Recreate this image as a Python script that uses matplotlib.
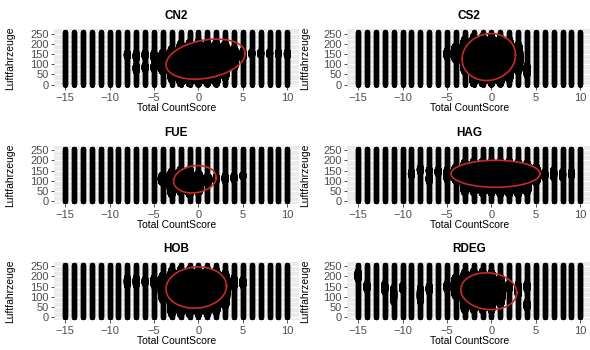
import numpy as np
import matplotlib
matplotlib.use("Agg")
import matplotlib.pyplot as plt

plt.rcParams['font.family'] = ['Liberation Sans', 'DejaVu Sans']

# x: Total CountScore, y: Luftfahrzeuge
scores = np.arange(-15, 11)
aircraft = np.arange(0, 259)

stations = ["CN2", "CS2", "FUE", "HAG", "HOB", "RDEG"]

# dichte Kerne je Station: (score, y von, y bis)
core = {
    "CN2": [(-4, 60, 160), (-3, 20, 180), (-2, 0, 205), (-1, 0, 210), (0, 0, 215),
            (1, 0, 210), (2, 0, 210), (3, 30, 205), (4, 80, 180)],
    "CS2": [(-4, 120, 190), (-3, 60, 225), (-2, 0, 240), (-1, 0, 240), (0, 0, 240),
            (1, 0, 235), (2, 20, 225), (3, 60, 200)],
    "FUE": [(-4, 90, 130), (-3, 30, 150), (-2, 40, 160), (-1, 30, 160), (0, 40, 140),
            (1, 90, 120)],
    "HAG": [(-4, 100, 170), (-3, 40, 195), (-2, 40, 200), (-1, 35, 200), (0, 35, 200),
            (1, 30, 200), (2, 30, 200), (3, 30, 195), (4, 40, 190), (5, 90, 170)],
    "HOB": [(-4, 80, 210), (-3, 10, 235), (-2, 10, 240), (-1, 10, 240), (0, 10, 240),
            (1, 10, 240), (2, 20, 235), (3, 50, 220)],
    "RDEG": [(-4, 100, 200), (-3, 30, 225), (-2, 30, 230), (-1, 30, 230), (0, 30, 225),
             (1, 60, 200)],
}

# einzelne Verdickungen: (score, y von, y bis)
bulges = {
    "CN2": [(-8, 130, 160), (-7, 120, 160), (-7, 60, 100), (-6, 130, 160), (-6, 70, 100),
            (-5, 120, 160), (-5, 70, 100), (5, 120, 170), (6, 140, 165), (7, 140, 165),
            (8, 140, 165), (9, 140, 165), (10, 135, 165)],
    "CS2": [(-5, 130, 170), (4, 40, 100)],
    "FUE": [(-3, 30, 55), (2, 95, 125), (3, 95, 130), (4, 100, 130), (5, 115, 135)],
    "HAG": [(-9, 120, 150), (-8, 140, 170), (-7, 90, 130), (-7, 140, 160), (-6, 130, 160),
            (-5, 100, 160), (6, 110, 150), (7, 110, 160), (8, 110, 150), (9, 120, 150)],
    "HOB": [(-8, 150, 200), (-7, 150, 200), (-6, 160, 190), (-5, 150, 200), (4, 140, 200),
            (5, 150, 190)],
    "RDEG": [(-15, 180, 230), (-14, 130, 170), (-12, 120, 170), (-11, 70, 150),
             (-10, 130, 160), (-8, 70, 150), (-7, 120, 160), (-5, 130, 170),
             (2, 130, 170), (3, 100, 170), (4, 40, 80), (4, 130, 170)],
}

# Ellipsen: Mitte x, Mitte y, halbe Breite, halbe Hoehe, Phase (Grad)
ellipse_cx = [0.8, -0.3, -0.4, 0.45, -0.25, -0.3]
ellipse_cy = [125, 135, 108, 135, 146, 128]
ellipse_rx = [4.45, 3.0, 2.4, 5.0, 3.4, 3.15]
ellipse_ry = [98, 115, 67, 66, 101, 90]
ellipse_phase = [74, 85, 82, 90, 86, 95]

W, H = 590, 350
fig = plt.figure(figsize=(W / 100, H / 100), dpi=100)

col_left = [54, 347]
row_top = [29.3, 146, 262]
ax_w, ax_h = 244.5, 58

xlim = (scores.min() - 1.25, scores.max() + 1.25)
yspan = aircraft.max() - aircraft.min()
ylim = (aircraft.min() - 0.05 * yspan, aircraft.max() + 0.05 * yspan)

base_s, bulge_s, core_s = 14, 26, 55


def blob(ax, items, big):
    for sc, lo, hi in items:
        ys = aircraft[(aircraft >= lo) & (aircraft <= hi)]
        mid, half = (lo + hi) / 2, max((hi - lo) / 2, 1)
        t = np.clip(np.abs(ys - mid) / half, 0, 1)
        sizes = base_s + (big - base_s) * np.sqrt(1 - t ** 2)
        ax.scatter(np.full(len(ys), sc), ys, s=sizes, c='black', linewidths=0, zorder=3)


for i, name in enumerate(stations):
    r, c = divmod(i, 2)
    left = col_left[c] / W
    bottom = 1 - (row_top[r] + ax_h) / H
    ax = fig.add_axes([left, bottom, ax_w / W, ax_h / H])
    ax.set_facecolor('#EBEBEB')
    for s in ax.spines.values():
        s.set_visible(False)

    gx, gy = np.meshgrid(scores, aircraft)
    ax.scatter(gx.ravel(), gy.ravel(), s=base_s, c='black', linewidths=0, zorder=3)
    blob(ax, bulges[name], bulge_s)
    blob(ax, core[name], core_s)

    t = np.linspace(0, 2 * np.pi, 240)
    ph = np.deg2rad(ellipse_phase[i])
    ex = ellipse_cx[i] + ellipse_rx[i] * np.cos(t)
    ey = ellipse_cy[i] + ellipse_ry[i] * np.cos(t - ph)
    ax.plot(ex, ey, color='#c62a2a', lw=1.2, zorder=4)

    ax.set_xlim(xlim)
    ax.set_ylim(ylim)
    ax.set_xticks([-15, -10, -5, 0, 5, 10])
    ax.set_xticks([-12.5, -7.5, -2.5, 2.5, 7.5], minor=True)
    ax.set_yticks([0, 50, 100, 150, 200, 250])
    ax.set_yticks([25, 75, 125, 175, 225], minor=True)
    ax.set_axisbelow(True)
    ax.grid(which='major', color='white', lw=0.8)
    ax.grid(which='minor', color='white', lw=0.4)
    ax.tick_params(which='major', length=2.5, width=0.6, color='#333333',
                   labelsize=8, labelcolor='#4D4D4D', pad=1.5)
    ax.tick_params(which='minor', length=0)

    # Achsentitel: x rund 21 px unter der Flaeche, y am linken Rand
    ax.set_xlabel('Total CountScore', fontsize=7.5)
    ax.xaxis.label.set_va('center')
    ax.xaxis.set_label_coords(0.5, -20.7 / ax_h)
    ax.set_ylabel('Luftfahrzeuge', fontsize=7.5)
    ax.yaxis.label.set_va('center')
    ax.yaxis.set_label_coords(-(col_left[c] - (10 + 295 * c)) / ax_w, 0.5)
    ax.text(0.5, 1 + 13.3 / ax_h, name, transform=ax.transAxes, ha='center',
            va='center', fontsize=8.5, fontweight='bold')

fig.savefig('out.png', dpi=100)
